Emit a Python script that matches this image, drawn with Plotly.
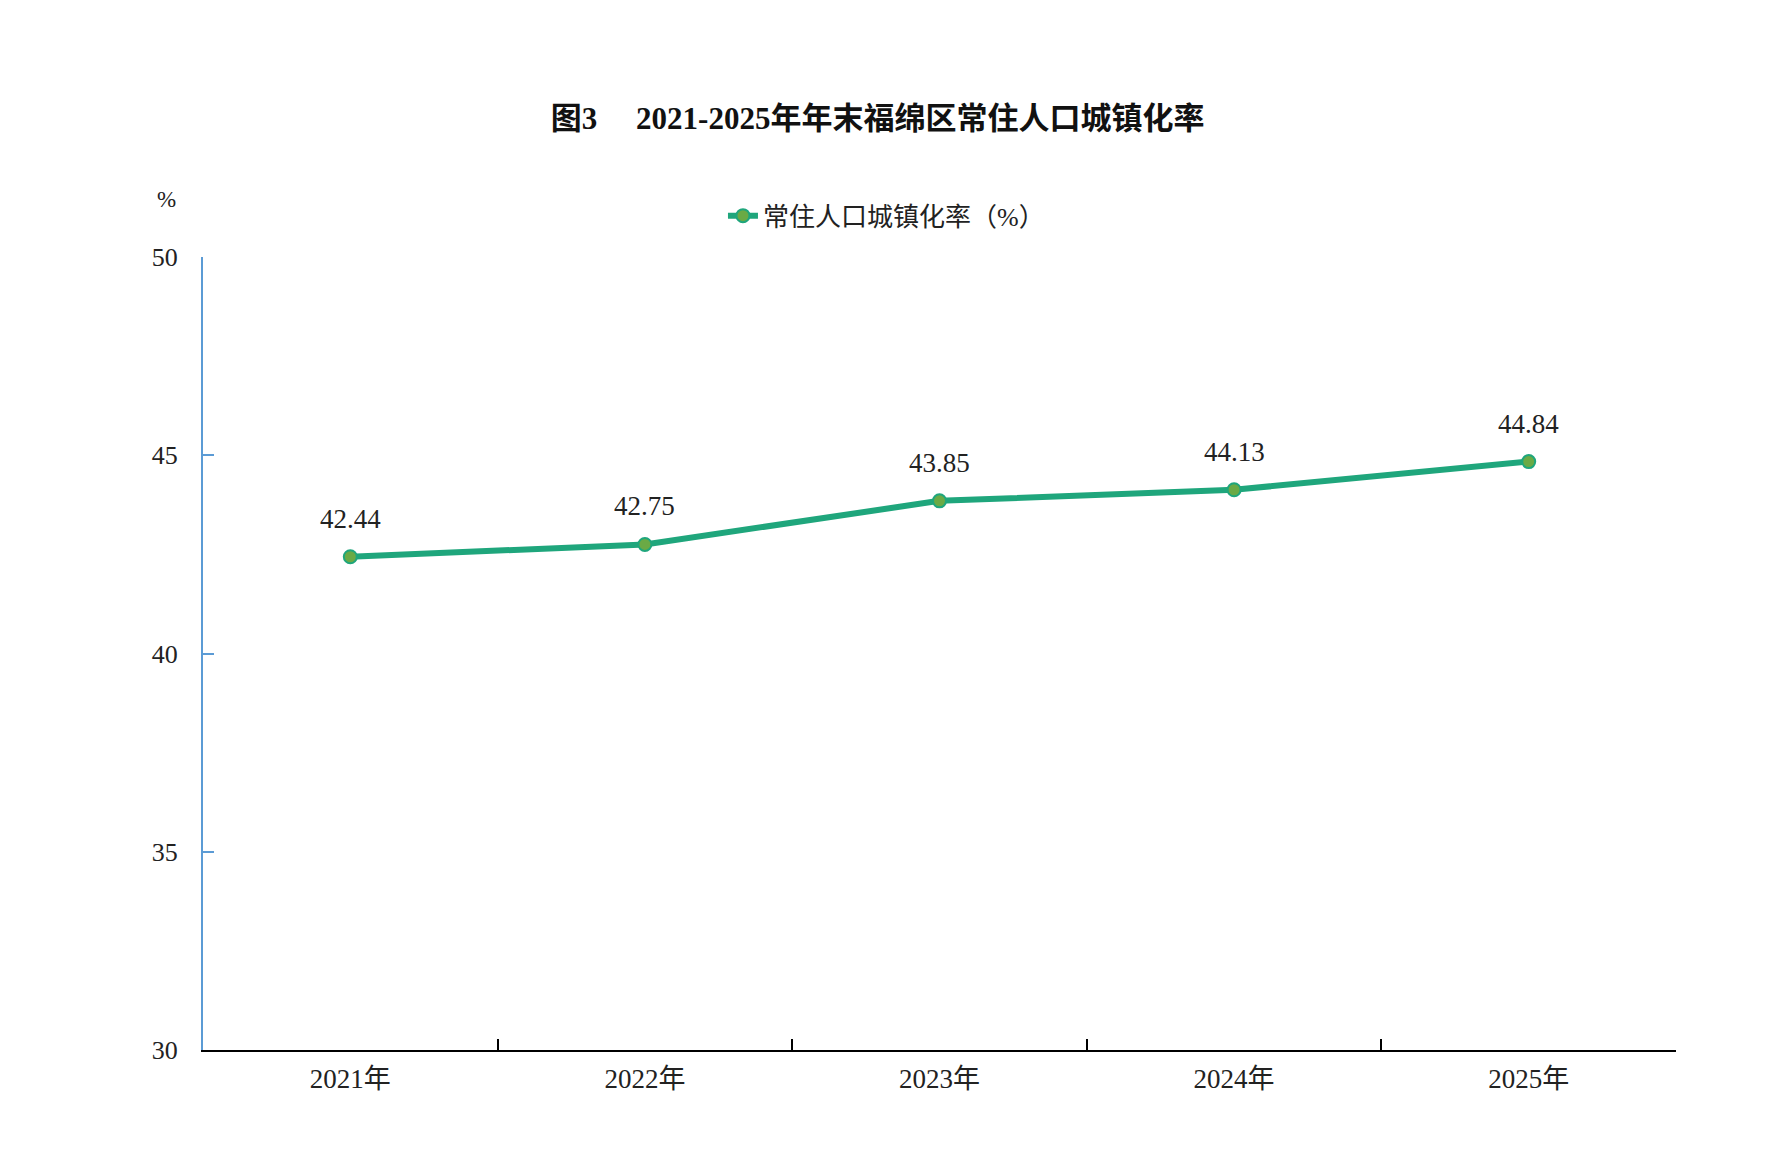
import plotly.graph_objects as go

# data
years = ['2021年', '2022年', '2023年', '2024年', '2025年']
rate = [42.44, 42.75, 43.85, 44.13, 44.84]
rate_labels = ['42.44', '42.75', '43.85', '44.13', '44.84']
y_ticks = [30, 35, 40, 45, 50]

serif = 'Liberation Serif, Noto Sans CJK SC, serif'
line_col = '#1fa67c'
dot_col = '#6aaa45'

fig = go.Figure()
fig.add_trace(go.Scatter(
    x=years, y=rate, name='常住人口城镇化率（%）',
    mode='lines+markers',
    line=dict(color=line_col, width=6),
    marker=dict(size=13, color=dot_col, line=dict(color=line_col, width=2)),
    cliponaxis=False,
))

# value labels above each point
for x, y, t in zip(years, rate, rate_labels):
    fig.add_annotation(x=x, y=y, text=t, showarrow=False, yshift=38,
                       font=dict(family=serif, size=27, color='#222'))

fig.add_annotation(text='%', xref='paper', yref='paper', x=-0.025, y=1.072,
                   xanchor='center', yanchor='middle', showarrow=False,
                   font=dict(family=serif, size=23, color='#222'))

fig.update_layout(
    width=1768, height=1167,
    paper_bgcolor='white', plot_bgcolor='white',
    margin=dict(l=195, r=100, t=249, b=125),
    title=dict(text='<b>图3\u3000 2021-2025年年末福绵区常住人口城镇化率</b>',
               x=0.458, xref='paper', xanchor='center',
               y=1 - 110 / 1167, yref='container', yanchor='middle',
               font=dict(family=serif, size=31, color='#111')),
    legend=dict(orientation='h', x=0.353, xanchor='left', y=1.052, yanchor='middle',
                font=dict(family=serif, size=26, color='#222'),
                bgcolor='rgba(0,0,0,0)'),
    showlegend=True,
)

fig.update_xaxes(
    type='category', range=[-0.5, 4.5],
    showline=True, linecolor='black', linewidth=2,
    ticks='inside', tickson='boundaries', ticklen=11, tickwidth=2, tickcolor='black',
    showgrid=False, zeroline=False, ticklabelstandoff=4,
    tickfont=dict(family=serif, size=27, color='#222'),
)
fig.update_yaxes(
    range=[30, 50], tickvals=y_ticks,
    showline=True, linecolor='#5b9bd5', linewidth=2,
    ticks='inside', ticklen=11, tickwidth=2, tickcolor='#5b9bd5',
    showgrid=False, zeroline=False, ticklabelstandoff=18,
    tickfont=dict(family=serif, size=26, color='#222'),
)

fig.write_html('out.html')
